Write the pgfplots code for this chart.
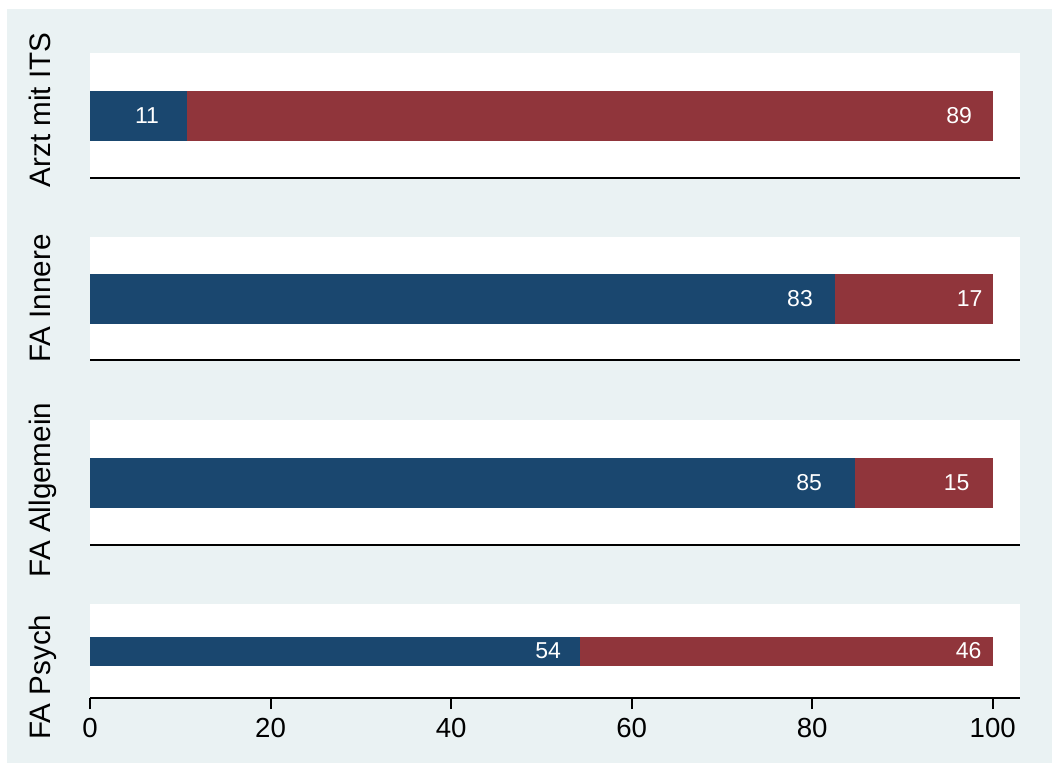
\documentclass[border=0pt]{standalone}
\usepackage{pgfplots}
\pgfplotsset{compat=1.18}
\usepackage{fontspec}
\setmainfont{Liberation Sans}
\definecolor{bgS}{RGB}{234,242,243}
\definecolor{navyS}{RGB}{26,71,111}
\definecolor{maroonS}{RGB}{144,53,59}
\tikzset{blab/.style={white, font=\fontsize{11.5}{13}\selectfont},
  ylab/.style={black, rotate=90, anchor=base, font=\fontsize{14.8}{16}\selectfont}}
\pgfplotsset{
  panel/.style={
    scale only axis,
    width=465pt,
    xmin=0, xmax=103.02,
    ymin=-1, ymax=1,
    xbar stacked,
    axis x line*=bottom,
    axis y line*=left,
    y axis line style={draw=none},
    ytick=\empty,
    xtick=\empty,
    axis background/.style={fill=white},
    x axis line style={black, line width=1pt},
    anchor=south west,
    clip=false,
  },
}
\begin{document}
\begin{tikzpicture}
\fill[white] (0pt,0pt) rectangle (526pt,-385.5pt);
\fill[bgS] (3.5pt,-4.5pt) rectangle (526pt,-381.5pt);

% Panel 1
\begin{axis}[panel, at={(45pt,-89pt)}, height=62.5pt, bar width=25pt,
  after end axis/.code={
    \node[blab] at (axis cs:6.31,0) {11};
    \node[blab] at (axis cs:96.27,0) {89};
    \node[ylab] at (axis description cs:-0.043,0.544) {Arzt mit ITS};
  }]
\addplot[fill=navyS, draw=none] coordinates {(10.75,0)};
\addplot[fill=maroonS, draw=none] coordinates {(89.25,0)};
\end{axis}

% Panel 2
\begin{axis}[panel, at={(45pt,-180pt)}, height=61.5pt, bar width=25pt,
  after end axis/.code={
    \node[blab] at (axis cs:78.65,0) {83};
    \node[blab] at (axis cs:97.43,0) {17};
    \node[ylab] at (axis description cs:-0.043,0.5) {FA Innere};
  }]
\addplot[fill=navyS, draw=none] coordinates {(82.53,0)};
\addplot[fill=maroonS, draw=none] coordinates {(17.47,0)};
\end{axis}

% Panel 3
\begin{axis}[panel, at={(45pt,-272.5pt)}, height=62.5pt, bar width=25pt,
  after end axis/.code={
    \node[blab] at (axis cs:79.65,0) {85};
    \node[blab] at (axis cs:95.99,0) {15};
    \node[ylab] at (axis description cs:-0.043,0.44) {FA Allgemein};
  }]
\addplot[fill=navyS, draw=none] coordinates {(84.75,0)};
\addplot[fill=maroonS, draw=none] coordinates {(15.25,0)};
\end{axis}

% Panel 4
\begin{axis}[panel, at={(45pt,-349pt)}, height=47pt, bar width=14.5pt,
  xtick={0,20,40,60,80,100},
  tick align=outside,
  major tick length=5.5pt,
  xtick style={black, line width=1pt},
  xticklabel style={font=\fontsize{13.8}{15}\selectfont, black, yshift=-1pt},
  /pgf/number format/assume math mode=true,
  after end axis/.code={
    \node[blab] at (axis cs:50.74,0) {54};
    \node[blab] at (axis cs:97.32,0) {46};
    \node[ylab] at (axis description cs:-0.043,0.223) {FA Psych};
  }]
\addplot[fill=navyS, draw=none] coordinates {(54.28,0)};
\addplot[fill=maroonS, draw=none] coordinates {(45.72,0)};
\end{axis}
\end{tikzpicture}
\end{document}
